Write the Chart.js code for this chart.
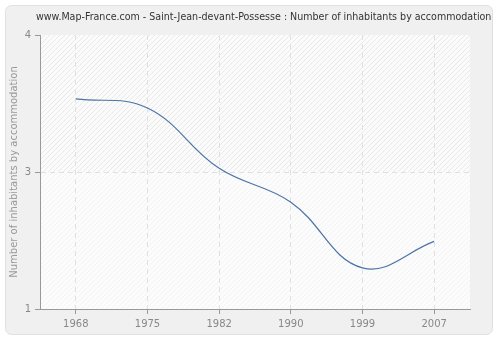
<!DOCTYPE html>
<html>
<head>
<meta charset="utf-8">
<script src="https://cdn.jsdelivr.net/npm/chart.js@4.4.0/dist/chart.umd.min.js"></script>
<style>
  html, body { margin: 0; padding: 0; background: #fff; }
  #wrap { width: 500px; height: 340px; }
</style>
</head>
<body>
<div id="wrap"><canvas id="chart" width="500" height="340"></canvas></div>
<script>
// Données
const years  = ['1968', '1975', '1982', '1990', '1999', '2007'];
const values = [3.30, 3.20, 2.54, 2.17, 1.45, 1.74];
const yTicks = [1, 2.5, 4];
const titre  = 'www.Map-France.com - Saint-Jean-devant-Possesse : Number of inhabitants by accommodation';

// Motif hachuré du fond
function hatch(bg, line) {
  const c = document.createElement('canvas');
  c.width = 5; c.height = 5;
  const g = c.getContext('2d');
  g.fillStyle = bg; g.fillRect(0, 0, 5, 5);
  g.strokeStyle = line; g.lineWidth = 1;
  g.beginPath();
  g.moveTo(0, 5); g.lineTo(5, 0);
  g.moveTo(-1, 1); g.lineTo(1, -1);
  g.moveTo(4, 6); g.lineTo(6, 4);
  g.stroke();
  return g.createPattern(c, 'repeat');
}

const panel = {
  id: 'panel',
  beforeDraw(chart) {
    const ctx = chart.ctx;
    ctx.save();
    ctx.fillStyle = '#fff';
    ctx.fillRect(0, 0, chart.width, chart.height);
    ctx.beginPath();
    ctx.roundRect(5.5, 5.5, 487, 329, 6);
    ctx.fillStyle = '#f0f0f0';
    ctx.fill();
    ctx.strokeStyle = '#e0e0e0';
    ctx.stroke();
    const a = chart.chartArea;
    const mid = chart.scales.y.getPixelForValue(2.5);
    ctx.fillStyle = hatch('#fbfbfb', '#e9e9e9');
    ctx.fillRect(a.left, a.top, a.right - a.left, mid - a.top);
    ctx.fillStyle = hatch('#fcfcfc', '#f3f3f3');
    ctx.fillRect(a.left, mid, a.right - a.left, a.bottom - mid);
    ctx.restore();
  },
  afterDraw(chart) {
    // titre ajusté à la largeur du modèle
    const ctx = chart.ctx;
    ctx.save();
    const fam = '"DejaVu Sans Condensed", "DejaVu Sans"';
    let size = 11;
    ctx.font = size + 'px ' + fam;
    const w = ctx.measureText(titre).width;
    size = Math.min(11.5, size * 456 / w);
    ctx.font = size + 'px ' + fam;
    ctx.fillStyle = '#333';
    ctx.textAlign = 'left';
    ctx.textBaseline = 'middle';
    ctx.fillText(titre, 36, 17);
    ctx.restore();
  }
};

new Chart(document.getElementById('chart'), {
  type: 'line',
  data: {
    labels: years,
    datasets: [{
      data: values,
      borderColor: '#4a74a6',
      borderWidth: 1.2,
      pointRadius: 0,
      tension: 0.4,
      fill: false
    }]
  },
  options: {
    responsive: false,
    animation: false,
    layout: { padding: { left: 0, right: 30, top: 35, bottom: 0 } },
    plugins: {
      legend: { display: false },
      tooltip: { enabled: false },
      title: { display: false }
    },
    scales: {
      x: {
        offset: true,
        grid: {
          color: '#e0e0e0',
          tickColor: '#999',
          tickLength: 5,
          offset: false
        },
        border: { color: '#999', dash: [5, 4] },
        ticks: {
          color: '#888',
          font: { family: 'DejaVu Sans', size: 10 },
          padding: 4
        },
        afterFit(s) { s.height = 31; }
      },
      y: {
        min: 1,
        max: 4,
        afterBuildTicks(s) { s.ticks = yTicks.map(v => ({ value: v })); },
        grid: {
          color: ctx => ctx.tick && ctx.tick.value === 2.5 ? '#e0e0e0' : 'rgba(0,0,0,0)',
          tickColor: '#999',
          tickLength: 5
        },
        border: { color: '#999', dash: [5, 4] },
        ticks: {
          color: '#888',
          font: { family: 'DejaVu Sans', size: 10 },
          padding: 4,
          callback: v => Math.round(v)
        },
        title: {
          display: true,
          text: 'Number of inhabitants by accommodation',
          color: '#999',
          font: { family: 'DejaVu Sans', size: 10 },
          padding: { top: 8, bottom: 0 }
        },
        afterFit(s) { s.width = 40; }
      }
    }
  },
  plugins: [panel]
});
</script>
</body>
</html>
